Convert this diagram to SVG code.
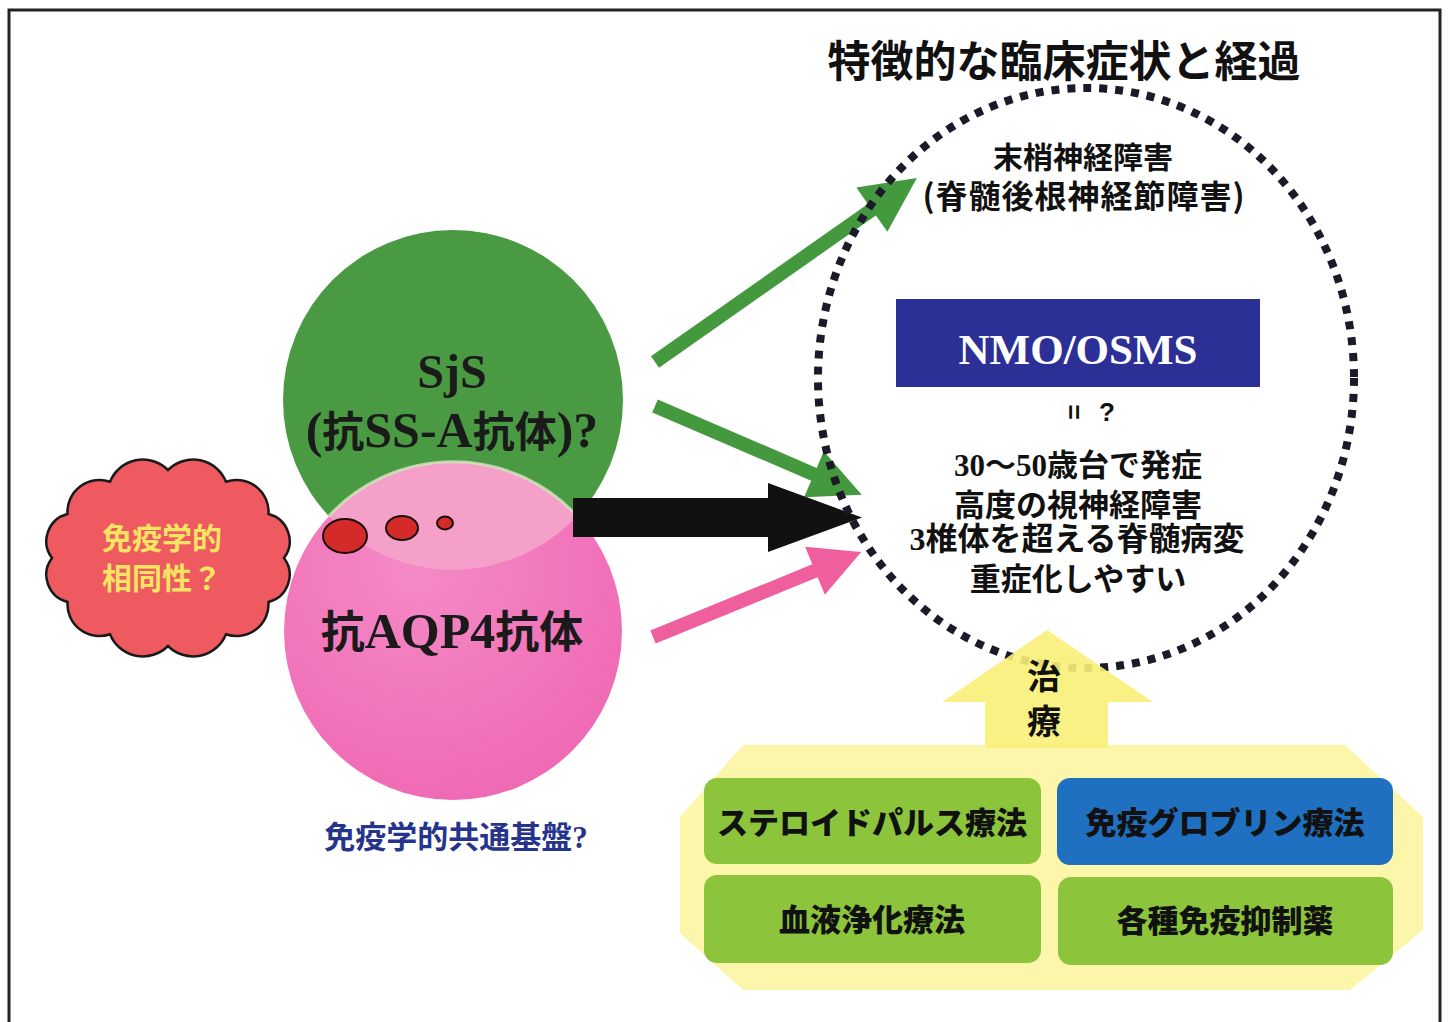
<svg xmlns="http://www.w3.org/2000/svg" width="1448" height="1022" viewBox="0 0 1448 1022">
<style>
.sans{font-family:"Noto Sans CJK JP","Noto Sans CJK SC",sans-serif;font-weight:700;}
.serif{font-family:"Liberation Serif","Noto Sans CJK JP",serif;font-weight:700;}
.dark{fill:#1a1a1a;}
.boxtxt{font-family:"Noto Sans CJK JP","Noto Sans CJK SC",sans-serif;font-weight:900;font-size:31px;fill:#111;}
.green-box{fill:#8cc43c;}
.blue-box{fill:#1f70c1;}
.green-arrow{fill:#44993f;}
</style>
<defs>
<radialGradient id="pinkGrad" cx="0.4" cy="0.3" r="0.8">
<stop offset="0" stop-color="#f48ac6"/>
<stop offset="1" stop-color="#ef66b2"/>
</radialGradient>
</defs>
<rect x="0" y="0" width="1448" height="1022" fill="#ffffff"/>
<rect x="9" y="10" width="1431" height="1030" fill="none" stroke="#222" stroke-width="3"/>

<g id="title">
<text x="1064" y="77" class="sans" font-size="43" font-weight="900" text-anchor="middle" fill="#111">特徴的な臨床症状と経過</text>
</g>

<g id="sjs-circle">
<circle cx="453" cy="400" r="170" fill="#4a9a43"/>
</g>
<g id="aqp4-circle">
<circle cx="453" cy="631" r="169" fill="url(#pinkGrad)"/>
<path d="M329,516 A169,169 0 0 1 577,516 A170,170 0 0 1 329,516 Z" fill="#f4a0c9"/>
<path d="M329,516 A169,169 0 0 1 577,516" fill="none" stroke="#d5e6bf" stroke-width="3" opacity="0.8"/>
<text x="452" y="648" class="serif dark" font-size="50" text-anchor="middle"><tspan font-size="44">抗</tspan>AQP4<tspan font-size="44">抗体</tspan></text>
</g>
<g id="sjs-label">
<text x="452" y="388" class="serif dark" font-size="48" text-anchor="middle">SjS</text>
<text x="452" y="447" class="serif dark" font-size="50" text-anchor="middle">(<tspan font-size="42">抗</tspan>SS-A<tspan font-size="42">抗体</tspan>)?</text>
</g>

<g id="thought-dots">
<ellipse cx="345" cy="536" rx="22" ry="17" fill="#d42a2a" stroke="#1a0a0a" stroke-width="2"/>
<ellipse cx="402" cy="528" rx="16" ry="12" fill="#d42a2a" stroke="#1a0a0a" stroke-width="2"/>
<ellipse cx="445" cy="523" rx="8" ry="6.5" fill="#d42a2a" stroke="#1a0a0a" stroke-width="2"/>
</g>

<g id="cloud">
<path d="M284,558 A28,28 0 0 1 268.5,602 A32,32 0 0 1 226,634.2 A35.5,35.5 0 0 1 168,646 A35.5,35.5 0 0 1 110,634.2 A32,32 0 0 1 67.5,602 A28,28 0 0 1 52,558 A28,28 0 0 1 67.5,514 A32,32 0 0 1 110,481.8 A35.5,35.5 0 0 1 168,470 A35.5,35.5 0 0 1 226,481.8 A32,32 0 0 1 268.5,514 A28,28 0 0 1 284,558 Z" fill="#ee5a60" stroke="#1a1a1a" stroke-width="2.5"/>
<text x="102" y="549" class="sans" font-size="30" fill="#f7e463">免疫学的</text>
<text x="102" y="589" class="sans" font-size="30" fill="#f7e463">相同性？</text>
</g>

<g id="common-basis">
<text x="456" y="848" class="serif" font-size="31" fill="#27348b" text-anchor="middle">免疫学的共通基盤?</text>
</g>

<g id="connectors">
<polygon class="green-arrow" points="0,-7 265,-7 265,-27 320,0 265,27 265,7 0,7" transform="translate(655,362) rotate(-35.08)"/>
<polygon class="green-arrow" points="0,-7 173,-7 173,-25 225,0 173,25 173,7 0,7" transform="translate(655,406) rotate(23.26)"/>
<polygon fill="#111" points="573,498 768,498 768,483 862,517.5 768,552 768,537 573,537"/>
<polygon fill="#ef5f9e" points="0,-7 175,-7 175,-26 225,0 175,26 175,7 0,7" transform="translate(653,637) rotate(-22.23)"/>
</g>

<g id="clinical-ellipse">
<ellipse cx="1086" cy="378" rx="268" ry="290" fill="none" stroke="#1a1a28" stroke-width="8" stroke-dasharray="8 8"/>
<text x="1083" y="168" class="sans" font-size="30" fill="#111" text-anchor="middle">末梢神経障害</text>
<text x="1084" y="208" class="sans" font-size="32" fill="#111" text-anchor="middle" letter-spacing="1">(脊髄後根神経節障害)</text>
</g>

<g id="nmo-box">
<rect x="896" y="299" width="364" height="88" fill="#2b2f96"/>
<text x="1078" y="364" class="serif" font-size="43" fill="#ffffff" text-anchor="middle">NMO/OSMS</text>
</g>

<g id="equal-q">
<text x="0" y="0" font-family="Liberation Sans, sans-serif" font-weight="700" font-size="26" fill="#111" text-anchor="middle" dominant-baseline="central" transform="translate(1074,412) rotate(90)">=</text>
<text x="1107" y="421" font-family="Liberation Sans, sans-serif" font-weight="700" font-size="26" fill="#111" text-anchor="middle">?</text>
</g>

<g id="features">
<text x="1078" y="476" class="serif" font-size="31" fill="#111" text-anchor="middle">30〜50歳台で発症</text>
<text x="1078" y="516" class="sans" font-size="31" fill="#111" text-anchor="middle">高度の視神経障害</text>
<text x="1077" y="550" class="serif" font-size="32" fill="#111" text-anchor="middle">3椎体を超える脊髄病変</text>
<text x="1078" y="590" class="sans" font-size="31" fill="#111" text-anchor="middle">重症化しやすい</text>
</g>

<g id="treatment-panel">
<polygon points="743,745 1345,745 1423,817 1423,930 1350,990 743,990 680,933 680,817" fill="#fbf6aa"/>
</g>

<g id="treatment-arrow">
<polygon points="1047,630 1153,702 1108,702 1108,748 985,748 985,702 942,702" fill="#f9ef78" fill-opacity="0.9"/>
<text x="1044" y="689" class="sans" font-size="34" fill="#111" text-anchor="middle">治</text>
<text x="1044" y="734" class="sans" font-size="34" fill="#111" text-anchor="middle">療</text>
</g>

<g id="box-steroid">
<rect x="704" y="778" width="337" height="86" rx="13" class="green-box"/>
<text x="872" y="834" class="boxtxt" text-anchor="middle">ステロイドパルス療法</text>
</g>
<g id="box-ivig">
<rect x="1057" y="778" width="336" height="87" rx="13" class="blue-box"/>
<text x="1225" y="834" class="boxtxt" text-anchor="middle">免疫グロブリン療法</text>
</g>
<g id="box-plasma">
<rect x="704" y="875" width="337" height="88" rx="13" class="green-box"/>
<text x="872" y="931" class="boxtxt" text-anchor="middle">血液浄化療法</text>
</g>
<g id="box-immuno">
<rect x="1058" y="877" width="335" height="88" rx="13" class="green-box"/>
<text x="1225" y="932" class="boxtxt" text-anchor="middle">各種免疫抑制薬</text>
</g>
</svg>
